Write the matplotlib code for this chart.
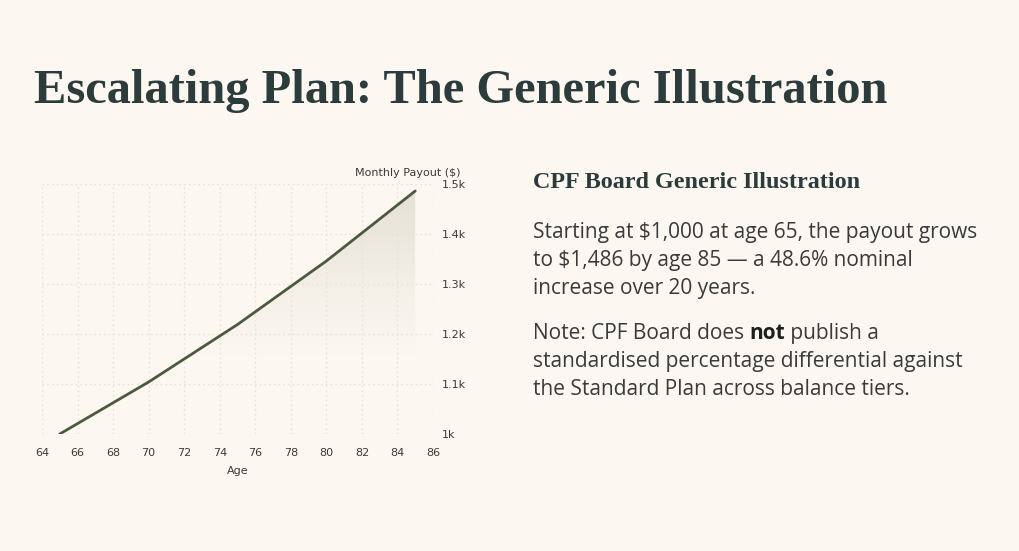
import numpy as np
import matplotlib
matplotlib.use("Agg")
import matplotlib.pyplot as plt
from matplotlib.patches import Polygon

# data
ages = [65, 70, 75, 80, 85]
payout = [1000, 1104, 1219, 1346, 1486]
xticks = list(range(64, 87, 2))
yticks = [1000, 1100, 1200, 1300, 1400, 1500]
ylabels = ["1k", "1.1k", "1.2k", "1.3k", "1.4k", "1.5k"]

bg = "#fcf7f1"
ink = "#2c3b3b"
line_col = "#4b5a3e"
text_col = "#3a3a3a"
W, H = 1019, 551

fig = plt.figure(figsize=(W / 100, H / 100), dpi=100, facecolor=bg)
r = fig.canvas.get_renderer()


def fit_text(x, y, s, width, **kw):
    # place text, then resize it so it spans the wanted pixel width
    t = fig.text(x / W, 1 - y / H, s, va="baseline", **kw)
    w = t.get_window_extent(renderer=r).width
    t.set_fontsize(t.get_fontsize() * width / w)
    return t


fit_text(34, 103, "Escalating Plan: The Generic Illustration", 853,
         family="Liberation Serif", weight="bold", fontsize=36, color=ink)

ax = fig.add_axes([42 / W, 1 - 434 / H, (433 - 42) / W, (434 - 184) / H])
ax.set_facecolor(bg)
ax.set_xlim(64, 86)
ax.set_ylim(1000, 1500)

# gradient fill under the line
g = np.linspace(0, 1, 256)
g = np.clip((g - 0.3) / 0.7, 0, 1) ** 1.2
rgba = np.zeros((256, 1, 4))
rgba[:, 0, 0] = 0.84
rgba[:, 0, 1] = 0.83
rgba[:, 0, 2] = 0.77
rgba[:, 0, 3] = g * 0.65
im = ax.imshow(rgba, extent=[65, 85, 1000, 1500], origin="lower",
               aspect="auto", zorder=1)
poly = Polygon(list(zip(ages, payout)) + [(85, 1000), (65, 1000)],
               closed=True, facecolor="none", edgecolor="none")
ax.add_patch(poly)
im.set_clip_path(poly)

ax.plot(ages, payout, color=line_col, lw=2, zorder=3, solid_capstyle="round")

ax.set_xticks(xticks)
ax.set_yticks(yticks)
ax.set_yticklabels(ylabels)
ax.yaxis.tick_right()
ax.tick_params(length=0, labelsize=8, colors=text_col)
ax.tick_params(axis="x", pad=10)
ax.tick_params(axis="y", pad=6)
ax.grid(True, color="#e8e3da", lw=1, ls=(0, (1.2, 2.2)))
for s in ax.spines.values():
    s.set_visible(False)
ax.set_xlabel("Age", fontsize=8, color=text_col, labelpad=6)
ax.text(1.07, 1.025, "Monthly Payout ($)", transform=ax.transAxes,
        ha="right", va="bottom", fontsize=8, color=text_col)

fit_text(533, 188, "CPF Board Generic Illustration", 327,
         family="Liberation Serif", weight="bold", fontsize=18, color=ink)

fs = 15
body = ["Starting at $1,000 at age 65, the payout grows",
        "to $1,486 by age 85 \u2014 a 48.6% nominal",
        "increase over 20 years."]
for i, t in enumerate(body):
    fig.text(533 / W, 1 - (238 + 28 * i) / H, t, family="Open Sans",
             fontsize=fs, color=text_col, va="baseline")

note_y = 339
x0 = 533 / W
t1 = fig.text(x0, 1 - note_y / H, "Note: CPF Board does ", family="Open Sans",
              fontsize=fs, color=text_col, va="baseline")
w1 = t1.get_window_extent(renderer=r).width / W
t2 = fig.text(x0 + w1, 1 - note_y / H, "not", family="Open Sans", weight="bold",
              fontsize=fs, color="#1e1e1e", va="baseline")
w2 = t2.get_window_extent(renderer=r).width / W
fig.text(x0 + w1 + w2, 1 - note_y / H, " publish a", family="Open Sans",
         fontsize=fs, color=text_col, va="baseline")
for i, t in enumerate(["standardised percentage differential against",
                       "the Standard Plan across balance tiers."]):
    fig.text(x0, 1 - (note_y + 28 * (i + 1)) / H, t, family="Open Sans",
             fontsize=fs, color=text_col, va="baseline")

fig.savefig("out.png", dpi=100, facecolor=bg)
